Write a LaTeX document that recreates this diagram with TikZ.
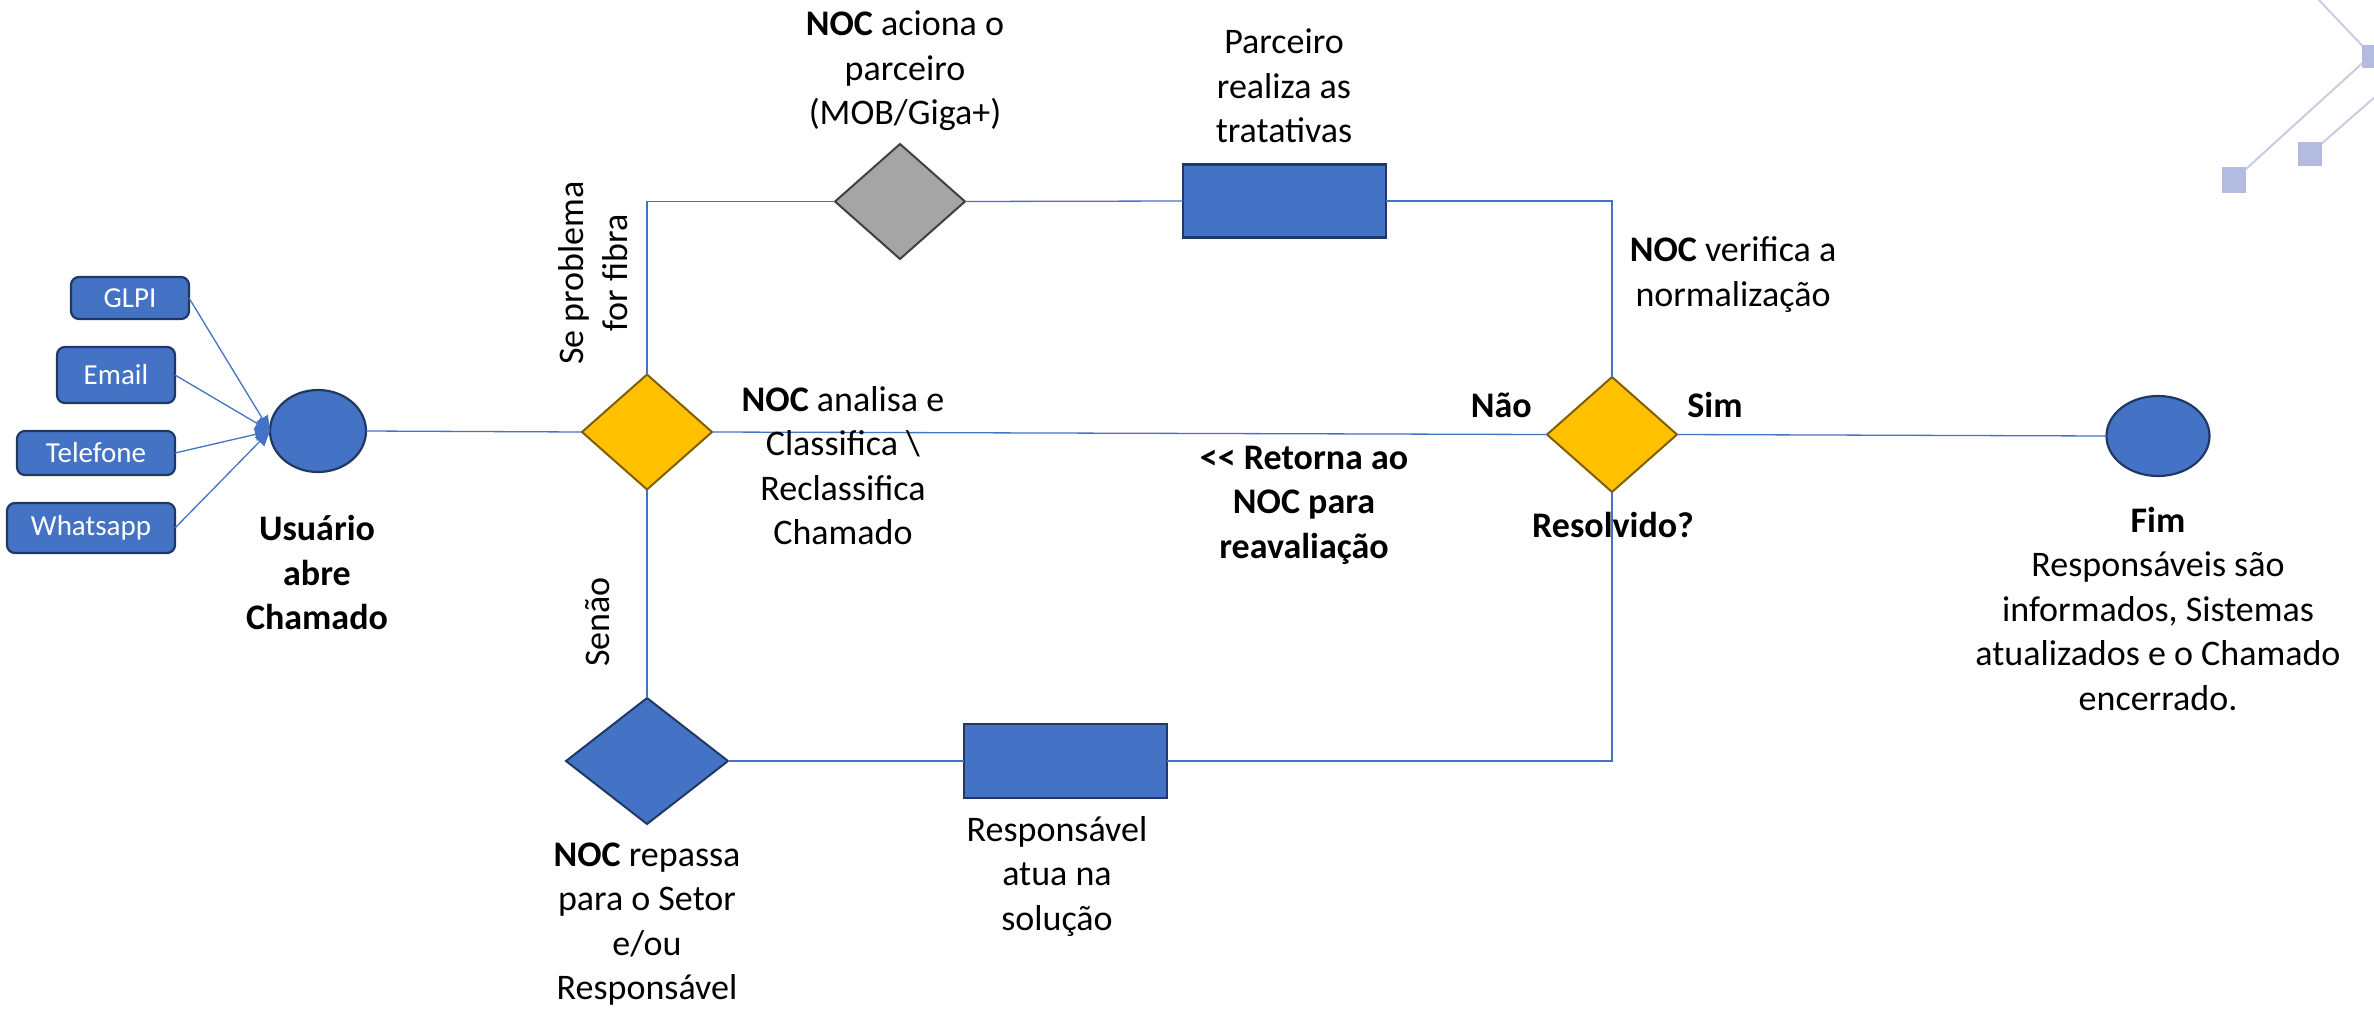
\documentclass[tikz,border=0pt]{standalone}
\usepackage{fontspec}
\setmainfont{Carlito}
\usetikzlibrary{shapes.geometric,arrows.meta}
\definecolor{fillblue}{HTML}{4472C4}
\definecolor{navy}{HTML}{203864}
\definecolor{lineblue}{HTML}{4472C4}
\definecolor{gold}{HTML}{FFC000}
\definecolor{goldborder}{HTML}{7F6000}
\definecolor{midgray}{HTML}{A5A5A5}
\definecolor{darkgray}{HTML}{404040}
\definecolor{decoline}{HTML}{C9CCE2}
\definecolor{decosq}{HTML}{B3BBE0}
\begin{document}
\begin{tikzpicture}[x=1pt,y=-1pt,
  conn/.style={draw=lineblue,line width=1.3pt},
  arr/.style={conn,-{Triangle[length=15pt,width=13pt]}},
  startend/.style={ellipse,draw=navy,fill=fillblue,line width=2.2pt,inner sep=0pt,outer sep=0pt},
  ydiam/.style={diamond,draw=goldborder,fill=gold,line width=2pt,inner sep=0pt,outer sep=0pt,minimum width=130,minimum height=115},
  gdiam/.style={diamond,draw=darkgray,fill=midgray,line width=2pt,inner sep=0pt,outer sep=0pt,minimum width=130,minimum height=115},
  bdiam/.style={diamond,draw=navy,fill=fillblue,line width=2pt,inner sep=0pt,outer sep=0pt,minimum width=162,minimum height=126},
  procbox/.style={rectangle,draw=navy,fill=fillblue,line width=2.4pt,inner sep=0pt,outer sep=0pt,minimum width=203,minimum height=73},
  inbox/.style={rectangle,rounded corners=8pt,draw=navy,fill=fillblue,line width=2.2pt,inner sep=0pt,outer sep=0pt,text=white,font=\fontsize{29}{34}\selectfont},
  txt/.style={align=center,inner sep=0pt,font=\fontsize{36}{44.5}\selectfont},
  txtb/.style={txt,font=\fontsize{36}{44.5}\selectfont\bfseries},
  deco/.style={draw=decoline,line width=2pt}
]
\useasboundingbox (0,0) rectangle (2374,1012);

% decoration top right
\draw[deco] (2317,-2) -- (2372,56);
\draw[deco] (2368,58) -- (2236,178);
\draw[deco] (2312,152) -- (2376,96);
\fill[decosq] (2222,167) rectangle (2246,193);
\fill[decosq] (2298,142) rectangle (2322,166);
\fill[decosq] (2362,45) rectangle (2386,68);

% shapes
\node[startend,minimum width=96,minimum height=82] (user) at (318,431) {};
\node[startend,minimum width=103,minimum height=80] (fim) at (2158,436) {};
\node[ydiam] (analisa) at (647,432) {};
\node[gdiam] (aciona) at (900,201.5) {};
\node[procbox] (parc) at (1284.5,201) {};
\node[ydiam] (resol) at (1612,434.5) {};
\node[bdiam] (repassa) at (647,761) {};
\node[procbox,minimum height=74] (resp) at (1065.5,761) {};

% input boxes
\node[inbox,minimum width=118,minimum height=42] (glpi) at (130,298) {GLPI};
\node[inbox,minimum width=118,minimum height=56] (email) at (116,375) {Email};
\node[inbox,minimum width=158,minimum height=44] (tel) at (96,453) {Telefone};
\node[inbox,minimum width=168,minimum height=50] (whats) at (91,528) {Whatsapp};

% connectors
\draw[arr] (glpi.east) -- (user.west);
\draw[arr] (email.east) -- (user.west);
\draw[arr] (tel.east) -- (user.west);
\draw[arr] (whats.east) -- (user.west);
\draw[conn] (user.east) -- (analisa.west);
\draw[conn] (analisa.north) |- (aciona.west);
\draw[conn] (aciona.east) -- (parc.west);
\draw[conn] (parc.east) -| (resol.north);
\draw[conn] (analisa.east) -- (resol.west);
\draw[conn] (resol.east) -- (fim.west);
\draw[conn] (analisa.south) -- (repassa.north);
\draw[conn] (repassa.east) -- (resp.west);
\draw[conn] (resp.east) -| (resol.south);

% labels
\node[txt] (taciona) at (905,71) {\textbf{NOC} aciona o\\parceiro\\(MOB/Giga+)};
\node[txt] (tparc) at (1284,86) {Parceiro\\realiza as\\tratativas};
\node[txt] (tverif) at (1733,274.5) {\textbf{NOC} verifica a\\normalização};
\node[txt,rotate=90] (tfibra) at (593,273) {Se problema\\for fibra};
\node[txt] (tanalisa) at (843,465.5) {\textbf{NOC} analisa e\\Classifica \textbackslash\\Reclassifica\\Chamado};
\node[txtb,anchor=east] (tnao) at (1532,405) {Não};
\node[txtb] (tsim) at (1715,405) {Sim};
\node[txtb] (tret) at (1304,505) {<\kern0pt< Retorna ao\\NOC para\\reavaliação};
\node[txtb] (tresol) at (1613,525) {Resolvido?};
\node[txtb] (tuser) at (317,572.5) {Usuário\\abre\\Chamado};
\node[txt] (tfim) at (2158,609) {\textbf{Fim}\\Responsáveis são\\informados, Sistemas\\atualizados e o Chamado\\encerrado.};
\node[txt,rotate=90] (tsenao) at (598,622) {Senão};
\node[txt] (trepassa) at (647,924) {\textbf{NOC} repassa\\para o Setor\\e/ou\\Responsável};
\node[txt] (tresp) at (1057,876.5) {Responsável\\atua na\\solução};
\end{tikzpicture}
\end{document}
